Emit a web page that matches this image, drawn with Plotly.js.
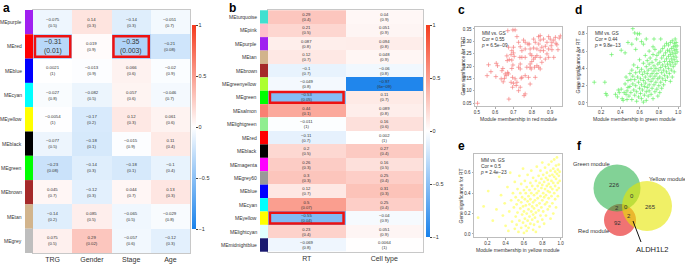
<!DOCTYPE html>
<html><head><meta charset="utf-8">
<script src="https://cdn.plot.ly/plotly-3.0.1.min.js"></script>
<style>html,body{margin:0;padding:0;background:#fff}#chart{width:685px;height:265px}</style>
</head><body><div id="chart"></div>
<script>
// ---------- Panel a data ----------
const traitsA = ['TRG','Gender','Stage','Age'];
const modulesA = ['MEpurple','MEred','MEblue','MEcyan','MEyellow','MEblack','MEgreen','MEbrown','MEtan','MEgrey'];
const moduleColorsA = ['#a020f0','#ff0000','#0000ff','#00ffff','#ffff00','#000000','#00ff00','#a52a2a','#d2b48c','#bebebe'];
const corTRG = [-0.075,-0.31,0.0021,-0.027,-0.0054,-0.077,-0.23,0.045,-0.14,0.075];
const pTRG = ['0.5','0.01','1','0.8','1','0.5','0.08','0.7','0.2','0.5'];
const corGender = [0.14,0.019,-0.013,-0.082,-0.17,-0.18,-0.14,-0.12,0.085,0.29];
const pGender = ['0.3','0.9','0.9','0.5','0.2','0.1','0.3','0.3','0.5','0.02'];
const corStage = [-0.14,-0.35,0.066,0.057,0.12,-0.015,-0.18,0.044,-0.065,-0.057];
const pStage = ['0.3','0.003','0.6','0.6','0.3','0.9','0.1','0.7','0.5','0.6'];
const corAge = [-0.051,-0.21,-0.02,-0.046,0.061,0.11,-0.1,0.13,-0.029,-0.12];
const pAge = ['0.7','0.08','0.9','0.7','0.6','0.4','0.4','0.3','0.8','0.3'];
const highlightA = [['MEred','TRG'],['MEred','Stage']];

// ---------- Panel b data ----------
const traitsB = ['RT','Cell type'];
const modulesB = ['MEturquoise','MEpink','MEpurple','MEtan','MEbrown','MEgreenyellow','MEgreen','MEsalmon','MElightgreen','MEred','MEblack','MEmagenta','MEgrey60','MEblue','MEcyan','MEyellow','MElightcyan','MEmidnightblue'];
const moduleColorsB = ['#40e0d0','#ffc0cb','#a020f0','#d2b48c','#a52a2a','#adff2f','#00ff00','#fa8072','#90ee90','#ff0000','#000000','#ff00ff','#999999','#0000ff','#00ffff','#ffff00','#e0ffff','#191970'];
const corRT = [0.29,0.21,0.087,0.12,-0.1,-0.049,-0.53,0.44,-0.011,-0.11,0.2,0.26,0.3,0.12,0.5,-0.55,0.23,-0.069];
const pRT = ['0.4','0.5','0.8','0.7','0.7','0.8','0.05','0.1','1','0.7','0.5','0.3','0.3','0.7','0.07','0.04','0.4','0.8'];
const corCell = [0.04,0.051,0.094,0.048,-0.06,-0.97,0.11,0.089,0.16,0.002,0.27,0.16,0.25,0.31,0.25,-0.04,0.051,0.0064];
const pCell = ['0.9','0.9','0.8','0.9','0.8','6e\u221209','0.7','0.8','0.6','1','0.4','0.5','0.4','0.3','0.4','0.9','0.9','1'];
const highlightB = [['MEgreen','RT'],['MEyellow','RT']];

const colorbarTicks = [-1,-0.5,0,0.5,1];
const colorbarTickText = ['\u22121','\u22120.5','0','0.5','1'];

// ---------- Panel c/d/e data (module membership, gene significance) ----------
const redModulePoints = [[0.504,0.049],[0.564,0.205],[0.556,0.161],[0.577,0.177],[0.606,0.211],[0.613,0.201],[0.604,0.157],[0.642,0.19],[0.655,0.168],[0.66,0.161],[0.651,0.15],[0.644,0.136],[0.664,0.241],[0.666,0.222],[0.673,0.276],[0.669,0.343],[0.697,0.346],[0.709,0.346],[0.719,0.319],[0.728,0.296],[0.691,0.262],[0.70,0.253],[0.687,0.246],[0.704,0.239],[0.677,0.226],[0.691,0.224],[0.697,0.204],[0.668,0.174],[0.691,0.19],[0.673,0.168],[0.695,0.154],[0.70,0.13],[0.695,0.114],[0.758,0.08],[0.737,0.278],[0.746,0.235],[0.735,0.235],[0.764,0.235],[0.737,0.208],[0.728,0.195],[0.737,0.188],[0.746,0.154],[0.742,0.15],[0.791,0.195],[0.797,0.188],[0.815,0.195],[0.828,0.201],[0.838,0.195],[0.846,0.188],[0.791,0.208],[0.81,0.228],[0.819,0.235],[0.791,0.249],[0.80,0.242],[0.828,0.242],[0.791,0.269],[0.81,0.273],[0.819,0.296],[0.779,0.289],[0.786,0.289],[0.837,0.319],[0.846,0.305],[0.864,0.309],[0.892,0.319],[0.901,0.309],[0.92,0.305],[0.929,0.316],[0.95,0.313],[0.91,0.296],[0.906,0.282],[0.883,0.296],[0.892,0.269],[0.855,0.276],[0.864,0.262],[0.883,0.249],[0.91,0.266],[0.943,0.266],[0.892,0.235],[0.874,0.228],[0.846,0.235],[0.855,0.215],[0.80,0.218],[0.773,0.195],[0.764,0.161],[0.782,0.154],[0.819,0.154],[0.791,0.127],[0.719,0.134],[0.709,0.148],[0.687,0.134],[0.764,0.087],[0.675,0.066],[0.715,0.121],[0.728,0.10],[0.737,0.114],[0.637,0.181],[0.633,0.148],[0.92,0.235],[0.932,0.292],[0.937,0.286],[0.956,0.322],[0.846,0.323],[0.81,0.309],[0.874,0.28],[0.838,0.289],[0.755,0.305],[0.764,0.296],[0.828,0.269],[0.846,0.262],[0.746,0.262],[0.764,0.269],[0.70,0.276]];

const greenModulePoints = [[0.13,0.24],[0.24,0.24],[0.25,0.11],[0.26,0.09],[0.31,0.56],[0.35,0.10],[0.37,0.07],[0.39,0.12],[0.41,0.16],[0.42,0.05],[0.44,0.12],[0.46,0.10],[0.48,0.18],[0.41,0.61],[0.45,0.58],[0.43,0.03],[0.47,0.04],[0.38,0.15],
[0.53,0.86],[0.55,0.81],[0.57,0.74],[0.6,0.80],[0.58,0.80],[0.62,0.71],[0.64,0.68],[0.75,0.74],[0.74,0.65],[0.67,0.74],[0.82,0.74],[0.48,0.70],[0.52,0.68],[0.56,0.62],
[0.45,0.22],[0.46,0.30],[0.47,0.14],[0.48,0.26],[0.49,0.08],[0.5,0.34],[0.5,0.19],[0.51,0.12],[0.51,0.27],[0.52,0.04],[0.52,0.38],[0.53,0.22],[0.53,0.31],[0.54,0.15],[0.54,0.44],[0.55,0.09],[0.55,0.27],[0.56,0.35],[0.56,0.20],[0.57,0.02],[0.57,0.13],[0.58,0.30],[0.58,0.41],[0.59,0.24],[0.59,0.07],[0.6,0.17],[0.6,0.36],[0.6,0.50],
[0.61,0.28],[0.61,0.11],[0.62,0.05],[0.62,0.21],[0.62,0.39],[0.63,0.33],[0.63,0.15],[0.64,0.26],[0.64,0.46],[0.64,0.01],[0.65,0.19],[0.65,0.36],[0.65,0.09],[0.66,0.30],[0.66,0.55],[0.66,0.23],[0.67,0.13],[0.67,0.42],[0.67,0.03],[0.68,0.34],[0.68,0.18],[0.68,0.49],[0.69,0.27],[0.69,0.08],[0.69,0.38],[0.7,0.21],[0.7,0.45],[0.7,0.14],[0.7,0.60],
[0.71,0.31],[0.71,0.52],[0.72,0.25],[0.72,0.10],[0.72,0.40],[0.73,0.17],[0.73,0.47],[0.73,0.34],[0.74,0.05],[0.74,0.28],[0.74,0.56],[0.75,0.21],[0.75,0.43],[0.75,0.37],[0.76,0.13],[0.76,0.31],[0.76,0.62],[0.77,0.50],[0.77,0.24],[0.77,0.40],[0.78,0.16],[0.78,0.34],[0.78,0.55],[0.79,0.28],[0.79,0.45],[0.79,0.08],[0.8,0.38],[0.8,0.20],[0.8,0.58],
[0.81,0.47],[0.81,0.30],[0.81,0.12],[0.82,0.41],[0.82,0.24],[0.82,0.60],[0.83,0.35],[0.83,0.52],[0.83,0.17],[0.84,0.44],[0.84,0.28],[0.84,0.63],[0.85,0.38],[0.85,0.55],[0.85,0.21],[0.86,0.48],[0.86,0.32],[0.86,0.66],[0.87,0.42],[0.87,0.58],[0.87,0.26],[0.88,0.51],[0.88,0.36],[0.88,0.69],[0.89,0.45],[0.89,0.61],[0.89,0.30],[0.9,0.54],[0.9,0.40],
[0.9,0.67],[0.91,0.48],[0.91,0.60],[0.91,0.34],[0.92,0.56],[0.92,0.70],[0.92,0.44],[0.93,0.63],[0.93,0.51],[0.93,0.38],[0.94,0.58],[0.94,0.72],[0.94,0.47],[0.95,0.65],[0.95,0.54],[0.95,0.42],[0.96,0.61],[0.96,0.69],[0.96,0.50],[0.97,0.57],[0.97,0.66],[0.97,0.74],[0.97,0.45],[0.98,0.62],[0.98,0.53],[0.98,0.70],[0.99,0.59],[0.99,0.66],[0.99,0.48],[0.96,0.36],[0.94,0.30],[0.92,0.25]];

const yellowModulePoints = [[0.1,0.16],[0.16,0.27],[0.21,0.42],[0.26,0.13],[0.3,0.24],[0.33,0.56],[0.35,0.38],[0.37,0.18],[0.39,0.30],[0.4,0.08],[0.42,0.46],[0.43,0.03],[0.44,0.22],[0.45,0.60],[0.46,0.33],[0.47,0.12],[0.48,0.40],[0.49,0.26],[0.5,0.05],[0.5,0.51],
[0.51,0.17],[0.51,0.36],[0.52,0.29],[0.52,0.09],[0.53,0.44],[0.53,0.21],[0.54,0.02],[0.54,0.33],[0.55,0.57],[0.55,0.13],[0.56,0.25],[0.56,0.40],[0.57,0.06],[0.57,0.31],[0.57,0.49],[0.58,0.19],[0.58,0.36],[0.59,0.11],[0.59,0.27],[0.59,0.64],[0.6,0.43],[0.6,0.22],[0.6,0.01],
[0.61,0.34],[0.61,0.15],[0.61,0.52],[0.62,0.28],[0.62,0.08],[0.62,0.40],[0.63,0.20],[0.63,0.46],[0.63,0.03],[0.64,0.32],[0.64,0.13],[0.64,0.58],[0.65,0.24],[0.65,0.37],[0.65,0.06],[0.66,0.43],[0.66,0.17],[0.66,0.29],[0.67,0.50],[0.67,0.10],[0.67,0.34],[0.68,0.22],[0.68,0.40],[0.68,0.62],[0.69,0.27],[0.69,0.14],[0.69,0.47],[0.7,0.31],[0.7,0.04],[0.7,0.55],[0.7,0.19],
[0.71,0.38],[0.71,0.25],[0.71,0.09],[0.72,0.44],[0.72,0.16],[0.72,0.33],[0.73,0.52],[0.73,0.21],[0.73,0.02],[0.74,0.40],[0.74,0.28],[0.74,0.66],[0.75,0.12],[0.75,0.47],[0.75,0.35],[0.76,0.23],[0.76,0.57],[0.76,0.42],[0.77,0.30],[0.77,0.07],[0.77,0.50],[0.78,0.37],[0.78,0.18],[0.78,0.62],[0.79,0.45],[0.79,0.26],[0.79,0.54],[0.8,0.33],[0.8,0.14],[0.8,0.70],[0.8,0.48],
[0.81,0.40],[0.81,0.22],[0.81,0.58],[0.82,0.36],[0.82,0.51],[0.82,0.10],[0.83,0.44],[0.83,0.29],[0.83,0.65],[0.84,0.55],[0.84,0.18],[0.84,0.38],[0.85,0.47],[0.85,0.31],[0.85,0.60],[0.86,0.42],[0.86,0.24],[0.86,0.53],[0.87,0.35],[0.87,0.68],[0.87,0.49],[0.88,0.57],[0.88,0.27],[0.88,0.41],[0.89,0.62],[0.89,0.46],[0.89,0.15],[0.9,0.52],[0.9,0.37],[0.9,0.71],
[0.91,0.58],[0.91,0.44],[0.91,0.30],[0.92,0.64],[0.92,0.50],[0.92,0.20],[0.93,0.56],[0.93,0.40],[0.93,0.73],[0.94,0.61],[0.94,0.47],[0.94,0.34],[0.95,0.67],[0.95,0.54],[0.95,0.26],[0.96,0.59],[0.96,0.43],[0.96,0.75],[0.97,0.63],[0.97,0.50],[0.97,0.37],[0.98,0.57],[0.98,0.68],[0.98,0.45],[0.99,0.61],[0.99,0.52]];

const statsC = ['0.55','6.5e\u221209'];
const statsD = ['0.44','9.8e\u221213'];
const statsE = ['0.5','2.4e\u221223'];

// ---------- Panel f data (Venn) ----------
const vennSetNames = ['Green module','Yellow module','Red module'];
const vennRegions = ['green','green+yellow','yellow','green+red','all','red','red+yellow'];
const vennCounts = [226,0,265,2,0,92,2];
const vennGeneLabel = 'ALDH1L2';

// ---------- helpers ----------
const W = 685, H = 265;
const px = x => x / W, py = y => 1 - y / H;
const FONT = 'Liberation Sans, Arial, Helvetica, sans-serif';
const fmt = v => String(v).replace('-', '\u2212');
const colorscale = [[0,'rgb(25,130,235)'],[0.5,'rgb(255,255,255)'],[1,'rgb(245,60,30)']];

const annotations = [], shapes = [];
function addText(x, y, text, size, opts) {
  annotations.push(Object.assign({xref:'paper', yref:'paper', x:px(x), y:py(y), text:text, showarrow:false,
    font:{family:FONT, size:size, color:'#222'}, xanchor:'center', yanchor:'middle'}, opts || {}));
}

// ---------- heatmap builder ----------
const corsA = [corTRG, corGender, corStage, corAge], psA = [pTRG, pGender, pStage, pAge];
const corsB = [corRT, corCell], psB = [pRT, pCell];

function heatPanel(traits, modules, colors, cors, ps, highlights, xa, ya, stripX0, stripX1, smallSize, bigSize, insetX, insetY) {
  const z = modules.map((m,i) => traits.map((t,j) => cors[j][i]));
  modules.forEach((m,i) => {
    shapes.push({type:'rect', xref:'paper', yref:ya, x0:px(stripX0), x1:px(stripX1), y0:i-0.5, y1:i+0.5,
      fillcolor:colors[i], line:{width:0}, layer:'above'});
    annotations.push({xref:'paper', yref:ya, x:px(stripX0-1), y:m, text:m, showarrow:false, xanchor:'right', yanchor:'middle',
      font:{family:FONT, size:5, color:'#333'}});
    traits.forEach((t,j) => {
      const hl = highlights.some(h => h[0]===m && h[1]===t);
      annotations.push({xref:xa, yref:ya, x:t, y:m, text:fmt(cors[j][i]) + '<br>(' + ps[j][i] + ')', showarrow:false,
        font:{family:FONT, size: hl ? bigSize : smallSize, color:'#333'}});
      if (hl) shapes.push({type:'rect', xref:xa, yref:ya, x0:j-0.5+insetX, x1:j+0.5-insetX, y0:i-0.5+insetY, y1:i+0.5-insetY,
        line:{color:'#ee1111', width:2.5}, fillcolor:'rgba(0,0,0,0)'});
    });
  });
  return z;
}

const zA = heatPanel(traitsA, modulesA, moduleColorsA, corsA, psA, highlightA, 'x', 'y', 25, 33, 4.3, 6.8, 0.05, 0.08);
const zB = heatPanel(traitsB, modulesB, moduleColorsB, corsB, psB, highlightB, 'x2', 'y2', 260, 268, 4.2, 4.2, 0.025, 0.1);

function cbar(x, y0, y1) {
  return {x:px(x), xanchor:'left', y:py(y0), yanchor:'top', len:(y1-y0)/H, lenmode:'fraction',
    thickness:4, thicknessmode:'pixels', xpad:0, ypad:0, outlinewidth:0,
    tickvals:colorbarTicks, ticktext:colorbarTickText, ticks:'outside', ticklen:2, tickcolor:'#444',
    tickfont:{family:FONT, size:5.5, color:'#333'}};
}

const traces = [
  {type:'heatmap', x:traitsA, y:modulesA, z:zA, colorscale:colorscale, zmin:-1, zmax:1, xaxis:'x', yaxis:'y',
   colorbar:cbar(192, 25, 229), hoverinfo:'skip'},
  {type:'heatmap', x:traitsB, y:modulesB, z:zB, colorscale:colorscale, zmin:-1, zmax:1, xaxis:'x2', yaxis:'y2',
   colorbar:cbar(426, 25, 237), hoverinfo:'skip'},
  {type:'scatter', mode:'markers', x:redModulePoints.map(p=>p[0]), y:redModulePoints.map(p=>p[1]), xaxis:'x3', yaxis:'y3',
   marker:{symbol:'cross-thin-open', size:3.2, color:'rgba(245,125,125,0.85)', line:{width:0.8, color:'rgba(245,125,125,0.85)'}}, hoverinfo:'skip'},
  {type:'scatter', mode:'markers', x:greenModulePoints.map(p=>p[0]), y:greenModulePoints.map(p=>p[1]), xaxis:'x4', yaxis:'y4',
   marker:{symbol:'cross-thin-open', size:3, color:'rgba(100,238,100,0.85)', line:{width:0.8, color:'rgba(100,238,100,0.85)'}}, hoverinfo:'skip'},
  {type:'scatter', mode:'markers', x:yellowModulePoints.map(p=>p[0]), y:yellowModulePoints.map(p=>p[1]), xaxis:'x5', yaxis:'y5',
   marker:{symbol:'circle', size:2.8, color:'rgba(255,255,140,0.95)', line:{width:0}}, hoverinfo:'skip'}
];

const heatX = (d, anchor) => ({domain:d, anchor:anchor, type:'category', ticks:'', showline:true, mirror:true, linecolor:'#c8c8c8',
  linewidth:1, showgrid:false, zeroline:false, tickfont:{family:FONT, size:7, color:'#333'}});
const heatY = (d, anchor) => ({domain:d, anchor:anchor, type:'category', autorange:'reversed', showticklabels:false, ticks:'',
  showline:true, mirror:true, linecolor:'#c8c8c8', linewidth:1, showgrid:false, zeroline:false});
const scX = (d, anchor, range, tv, f) => ({domain:d, anchor:anchor, range:range, tickvals:tv, tickformat:f, ticks:'outside', ticklen:1.5,
  tickwidth:0.6, tickcolor:'#777', showline:true, mirror:true, linecolor:'#bdbdbd', linewidth:1, showgrid:false, zeroline:false,
  tickfont:{family:FONT, size:4.5, color:'#333'}});

// scatter titles / stats
function scatterText(x0, x1, y0, y1, xTitle, yTitle, yTitleX, xTitleY, stats) {
  addText((x0+x1)/2, xTitleY, xTitle, 5, {font:{family:FONT, size:5, color:'#333'}});
  addText(yTitleX, (y0+y1)/2, yTitle, 5, {textangle:-90, font:{family:FONT, size:5, color:'#333'}});
  addText(x0+4, y0+2, 'MM vs. GS<br>Cor = ' + stats[0] + '<br><i>p</i> = ' + stats[1], 4.8,
    {xanchor:'left', yanchor:'top', align:'left', font:{family:FONT, size:4.8, color:'#333'}});
}
scatterText(475, 562, 27, 106, 'Module membership in red module', 'Gene significance for TRG', 462, 119, statsC);
scatterText(588, 680, 27, 106, 'Module membership in green module', 'Gene significance for RT', 577, 119, statsD);
scatterText(474, 562, 154, 237, 'Module membership in yellow module', 'Gene significance for RT', 460, 249.5, statsE);

// panel letters
[['a',6,8],['b',232,8],['c',461,10],['d',578,10],['e',461,146],['f',579,146]].forEach(l =>
  addText(l[1], l[2], '<b>' + l[0] + '</b>', 12, {font:{family:FONT, size:12, color:'#000'}}));

// Venn circles (layout positions in page pixels)
const vennCircles = [
  {cx:620, cy:220, r:16, fill:'rgba(228,0,0,0.55)'},
  {cx:617, cy:188, r:23.5, fill:'rgba(28,173,64,0.55)'},
  {cx:647, cy:206, r:25, fill:'rgba(230,230,0,0.6)'}
];
vennCircles.forEach(c => shapes.push({type:'circle', xref:'paper', yref:'paper', x0:px(c.cx-c.r), x1:px(c.cx+c.r),
  y0:py(c.cy+c.r), y1:py(c.cy-c.r), fillcolor:c.fill, line:{width:0}, layer:'above'}));
const vennCountPos = [[614,185],[632,196],[650,207],[617,208],[626,207],[617,223],[629,216]];
vennCounts.forEach((n,i) => addText(vennCountPos[i][0], vennCountPos[i][1], String(n), 6, {font:{family:FONT, size:6, color:'#333'}}));
const vennLabelPos = [[591,164],[667,179],[593,231]];
vennSetNames.forEach((s,i) => addText(vennLabelPos[i][0], vennLabelPos[i][1], s, 5.8, {font:{family:FONT, size:5.8, color:'#333'}}));
addText(652, 249, vennGeneLabel, 7.5, {font:{family:FONT, size:7.5, color:'#222'}});
shapes.push({type:'line', xref:'paper', yref:'paper', x0:px(633), y0:py(221), x1:px(641), y1:py(242), line:{color:'#111', width:1}, layer:'above'});

const layout = {
  width:W, height:H, margin:{l:0, r:0, t:0, b:0}, showlegend:false,
  paper_bgcolor:'#fff', plot_bgcolor:'rgba(0,0,0,0)', font:{family:FONT},
  xaxis: heatX([px(33), px(190)], 'y'),
  yaxis: heatY([py(253), py(10)], 'x'),
  xaxis2: heatX([px(268), px(423)], 'y2'),
  yaxis2: heatY([py(252), py(10)], 'x2'),
  xaxis3: scX([px(475), px(562)], 'y3', [0.49, 0.965], [0.5,0.6,0.7,0.8,0.9], '.1f'),
  yaxis3: scX([py(106), py(27)], 'x3', [0.038, 0.358], [0.05,0.10,0.15,0.20,0.25,0.30,0.35], '.2f'),
  xaxis4: scX([px(588), px(680)], 'y4', [0.065, 1.02], [0.2,0.4,0.6,0.8,1.0], '.1f'),
  yaxis4: scX([py(106), py(27)], 'x4', [-0.035, 0.879], [0,0.2,0.4,0.6,0.8], '.1f'),
  xaxis5: scX([px(474), px(562)], 'y5', [0.055, 1.015], [0.2,0.4,0.6,0.8,1.0], '.1f'),
  yaxis5: scX([py(237), py(154)], 'x5', [-0.03, 0.784], [0,0.2,0.4,0.6], '.1f'),
  annotations: annotations, shapes: shapes
};
Plotly.newPlot('chart', traces, layout, {staticPlot:true, displayModeBar:false});
</script></body></html>
